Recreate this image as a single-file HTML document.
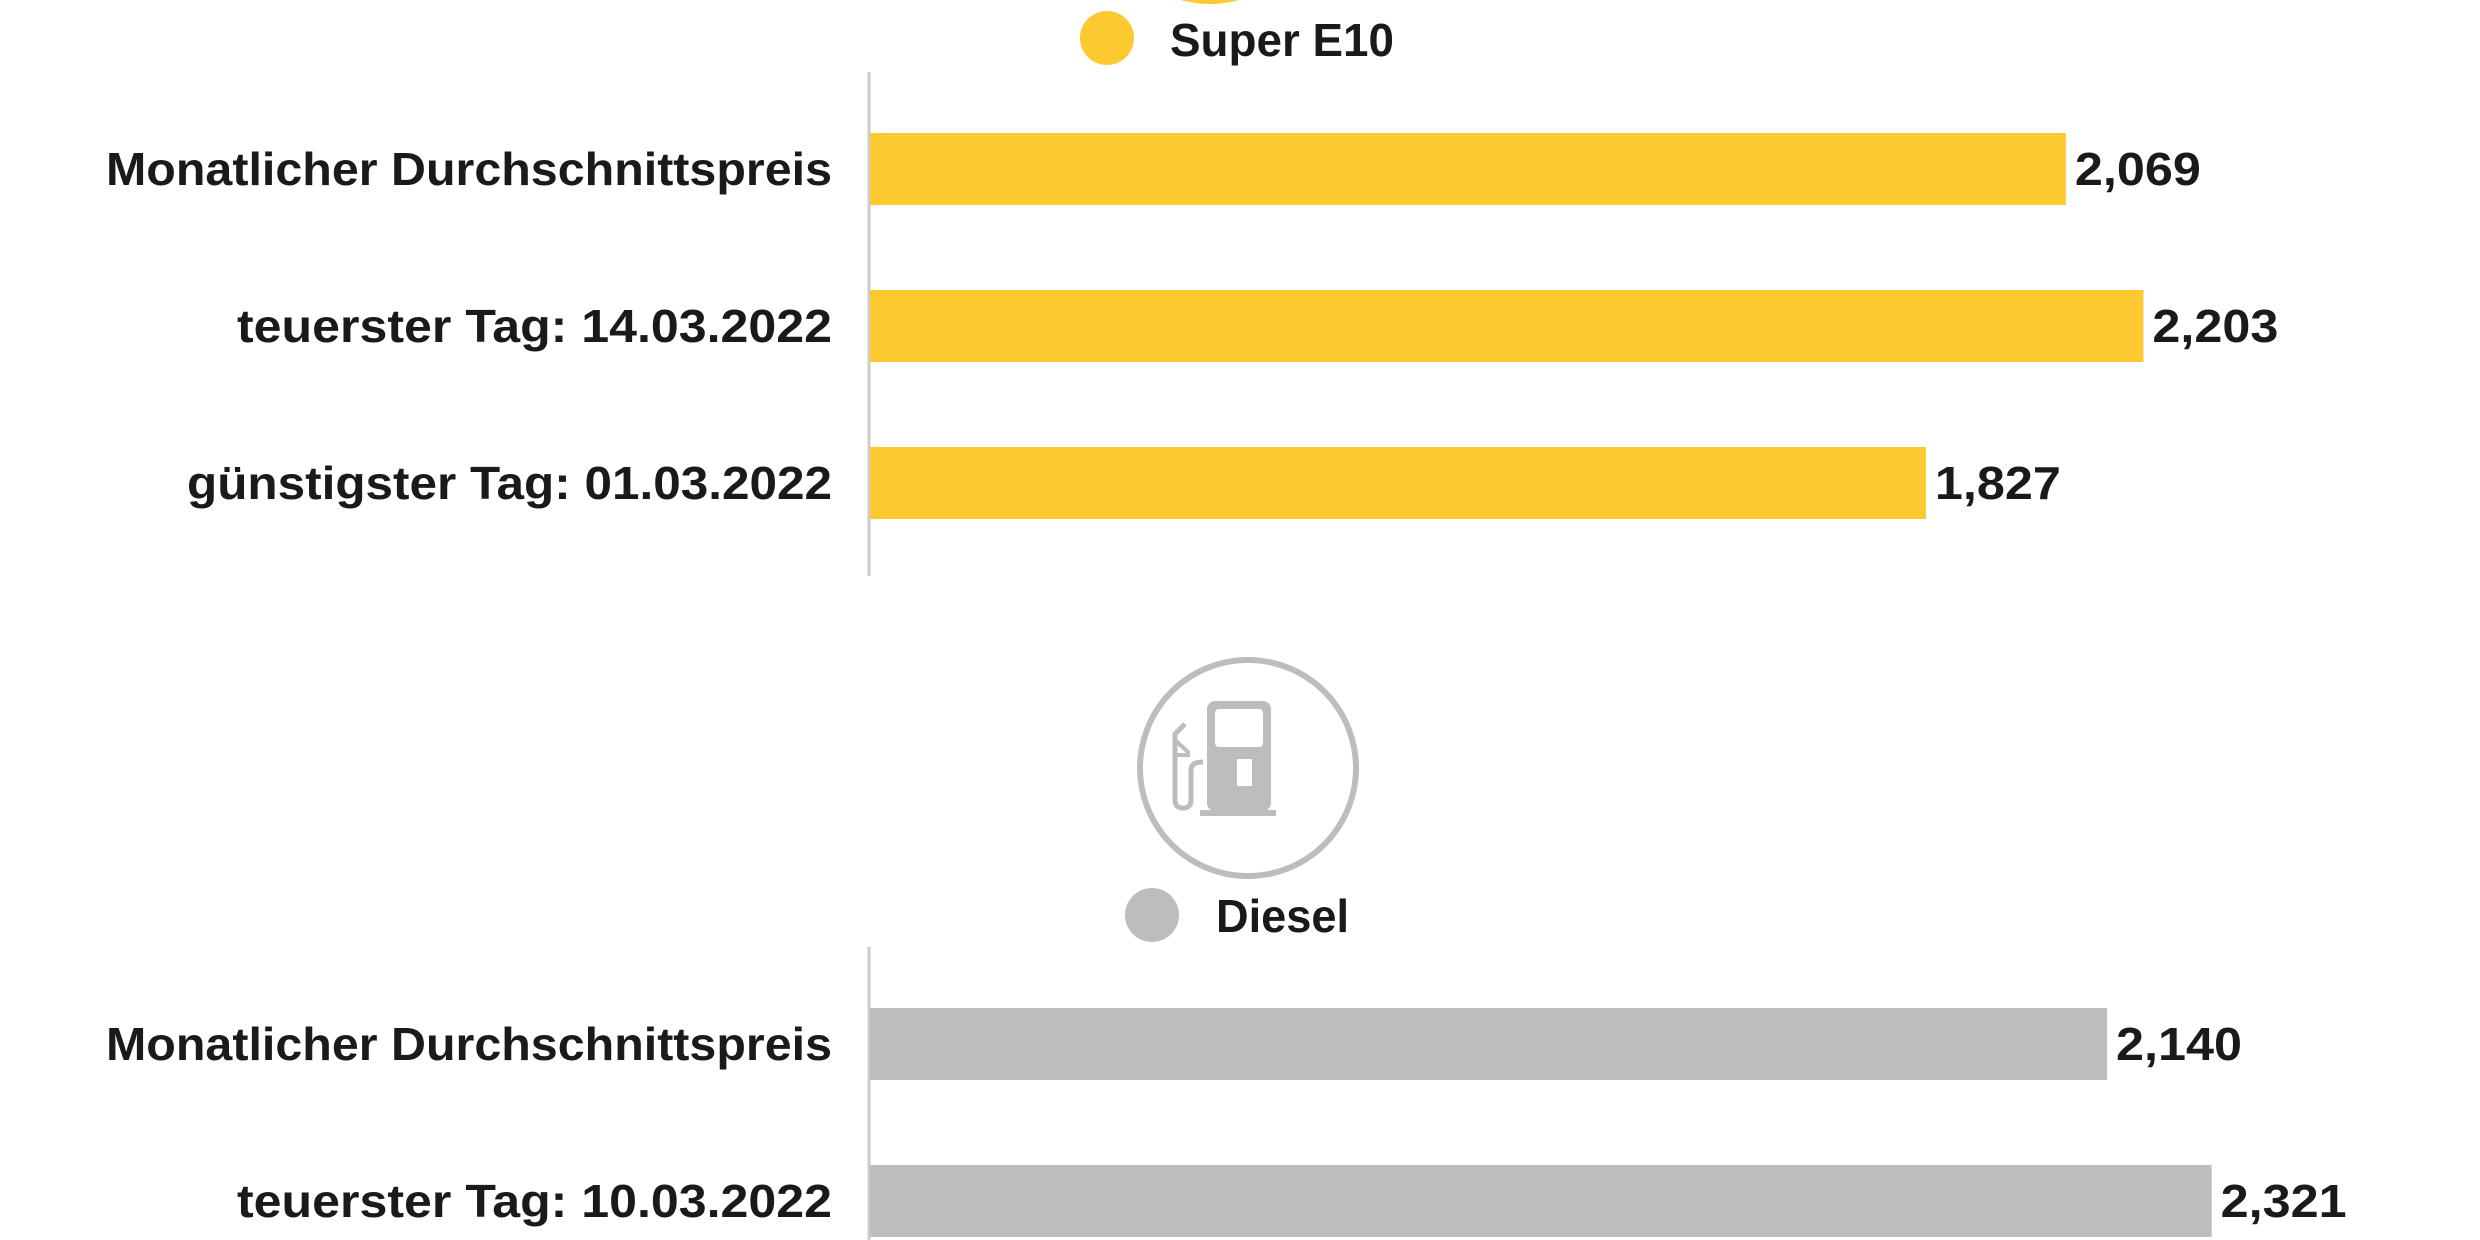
<!DOCTYPE html>
<html><head><meta charset="utf-8"><style>
html,body{margin:0;padding:0;background:#fff;}
svg{display:block;font-family:"Liberation Sans",sans-serif;font-weight:bold;}
</style></head><body>
<svg id="chart" width="2480" height="1240" viewBox="0 0 2480 1240" xmlns="http://www.w3.org/2000/svg">
<circle cx="1210" cy="-105" r="109" fill="#fcc931"/>
<circle cx="1107" cy="38" r="27" fill="#fcc931"/>
<text x="1170" y="56" font-size="46" fill="#1a1a1a" textLength="224" lengthAdjust="spacingAndGlyphs">Super E10</text>
<g fill="#bdbdbd" stroke="#bdbdbd">
<circle cx="1248" cy="768" r="108" fill="none" stroke-width="6"/>
<rect x="1207" y="701" width="64" height="110" rx="8" fill="#bdbdbd" stroke="none"/>
<rect x="1215" y="709" width="48" height="38" rx="4" fill="#fff" stroke="none"/>
<rect x="1237" y="759" width="15" height="27" fill="#fff" stroke="none"/>
<rect x="1200" y="810" width="76" height="6" stroke="none"/>
<path d="M1185 724 L1175 734 L1175 800 Q1175 808 1183 808 Q1191 808 1191 800 L1191 770 Q1191 762 1203 762" fill="none" stroke-width="5"/>
<path d="M1175 740 L1188 752 L1188 755 L1175 755" fill="none" stroke-width="4"/>
</g>
<circle cx="1152" cy="915" r="27" fill="#bdbdbd"/>
<text x="1216" y="932" font-size="46" fill="#1a1a1a" textLength="133" lengthAdjust="spacingAndGlyphs">Diesel</text>
<line x1="869" y1="72" x2="869" y2="576" stroke="#cccccc" stroke-width="3"/>
<line x1="869" y1="947" x2="869" y2="1240" stroke="#cccccc" stroke-width="3"/>
<g id="bars"></g>
</svg>
<script>
const categories = ["Monatlicher Durchschnittspreis","teuerster Tag: 14.03.2022","günstigster Tag: 01.03.2022"];
const superValues = [2.069, 2.203, 1.827];
const superLabels = ["2,069","2,203","1,827"];
const dieselCategories = ["Monatlicher Durchschnittspreis","teuerster Tag: 10.03.2022"];
const dieselValues = [2.140, 2.321];
const dieselLabels = ["2,140","2,321"];

const x0 = 869, pxPerUnit = 578.5, barH = 72, step = 157;
const xScale = v => x0 + v * pxPerUnit;
const labelWidths = {"Monatlicher Durchschnittspreis":726,"teuerster Tag: 14.03.2022":595,"teuerster Tag: 10.03.2022":595,"günstigster Tag: 01.03.2022":645};
const NS = "http://www.w3.org/2000/svg";
const g = document.getElementById('bars');
function drawGroup(cats, vals, labs, top, color, key){
  cats.forEach((c,i)=>{
    const y = top + i*step;
    const r = document.createElementNS(NS,'rect');
    
    
    r.setAttribute('x', x0+1); r.setAttribute('y', y);
    r.setAttribute('width', xScale(vals[i]) - x0 - 1); r.setAttribute('height', barH);
    r.setAttribute('fill', color);
    g.appendChild(r);
    const t = document.createElementNS(NS,'text');
    
    
    t.setAttribute('x', 832); t.setAttribute('y', y + barH/2 + 16);
    t.setAttribute('text-anchor','end'); t.setAttribute('font-size','46'); t.setAttribute('fill','#1a1a1a');
    if(labelWidths[c]){t.setAttribute('textLength', labelWidths[c]); t.setAttribute('lengthAdjust','spacingAndGlyphs');}
    t.textContent = c; g.appendChild(t);
    const v = document.createElementNS(NS,'text');
    
    
    v.setAttribute('x', xScale(vals[i]) + 9); v.setAttribute('y', y + barH/2 + 16);
    v.setAttribute('font-size','46'); v.setAttribute('fill','#1a1a1a');
    v.setAttribute('textLength', 126); v.setAttribute('lengthAdjust','spacingAndGlyphs');
    v.textContent = labs[i]; g.appendChild(v);
  });
}
drawGroup(categories, superValues, superLabels, 133, '#fcc931', 'super-e10');
drawGroup(dieselCategories, dieselValues, dieselLabels, 1008, '#bdbdbd', 'diesel');
</script>
</body></html>
